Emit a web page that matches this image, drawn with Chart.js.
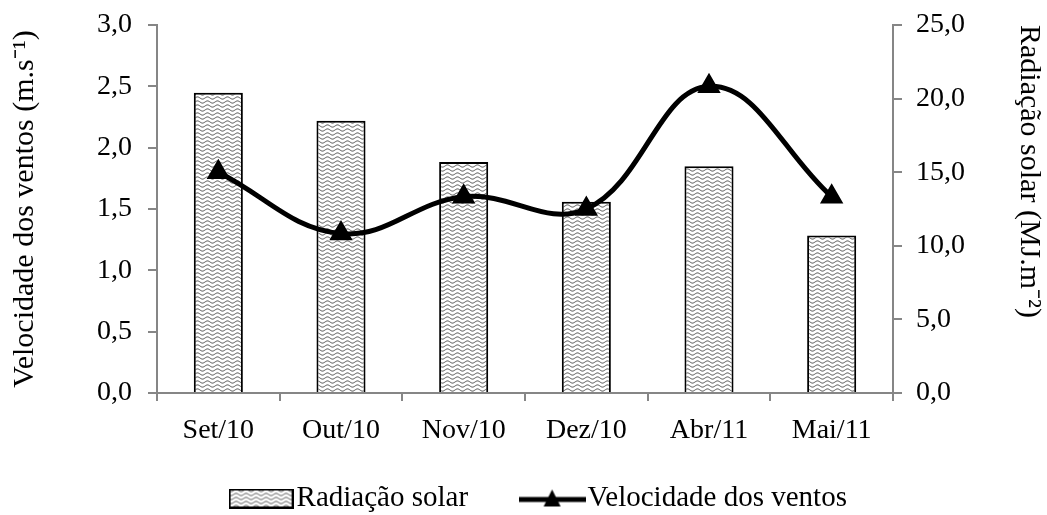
<!DOCTYPE html>
<html>
<head>
<meta charset="utf-8">
<script src="https://cdn.jsdelivr.net/npm/chart.js@4"></script>
<style>
  html, body { margin: 0; padding: 0; background: #fff; }
  #wrap { width: 1047px; height: 515px; }
</style>
</head>
<body>
<div id="wrap"><canvas id="grafico" width="1047" height="515"></canvas></div>
<script>
// Dados do gráfico
const meses = ['Set/10', 'Out/10', 'Nov/10', 'Dez/10', 'Abr/11', 'Mai/11'];
const radiacaoSolar = [20.4, 18.5, 15.7, 13.0, 15.4, 10.7];     // MJ.m-2 (eixo direito)
const velocidadeVentos = [1.8, 1.3, 1.6, 1.5, 2.5, 1.6];        // m.s-1 (eixo esquerdo)
const eixoVelocidade = { min: 0, max: 3, passo: 0.5 };
const eixoRadiacao = { min: 0, max: 25, passo: 5 };

const fonte = '"Liberation Serif", "Times New Roman", serif';
const corEixo = '#868686';
Chart.defaults.font.family = fonte;

// Textura ondulada das barras
function criarTextura() {
  const c = document.createElement('canvas');
  c.width = 10; c.height = 4;
  const ctx = c.getContext('2d');
  ctx.fillStyle = '#fff';
  ctx.fillRect(0, 0, 10, 4);
  ctx.strokeStyle = '#4a4a4a';
  ctx.lineWidth = 1;
  ctx.beginPath();
  for (let x = -1; x <= 11; x += 0.5) {
    const y = 2 + Math.sin(x / 10 * 2 * Math.PI) * 1.1;
    if (x === -1) ctx.moveTo(x, y); else ctx.lineTo(x, y);
  }
  ctx.stroke();
  return document.getElementById('grafico').getContext('2d').createPattern(c, 'repeat');
}
const textura = criarTextura();

// Ícones da legenda
function iconeBarra() {
  const c = document.createElement('canvas');
  c.width = 65; c.height = 20;
  const ctx = c.getContext('2d');
  ctx.fillStyle = textura;
  ctx.fillRect(1, 1, 63, 18);
  ctx.strokeStyle = '#000';
  ctx.lineWidth = 2;
  ctx.strokeRect(1, 1, 63, 18);
  return c;
}
function iconeLinha() {
  const c = document.createElement('canvas');
  c.width = 67; c.height = 22;
  const ctx = c.getContext('2d');
  ctx.strokeStyle = '#000';
  ctx.lineWidth = 5;
  ctx.beginPath();
  ctx.moveTo(0, 12); ctx.lineTo(67, 12);
  ctx.stroke();
  ctx.fillStyle = '#000';
  ctx.beginPath();
  ctx.moveTo(33.5, 2); ctx.lineTo(42, 19); ctx.lineTo(25, 19);
  ctx.closePath();
  ctx.fill();
  return c;
}

// Reposiciona a legenda (o padding grande só serve para o espaço entre os itens)
const ajustaLegenda = {
  id: 'ajustaLegenda',
  afterLayout(chart) {
    const lg = chart.legend;
    lg.left += 20; lg.right += 20;
    lg.top -= 32; lg.bottom -= 32;
  }
};

// Largura fixa dos eixos verticais, sem folga extra no topo
const fixaEixo = largura => s => {
  s.width = largura;
  s.paddingTop = 0;
};

const virgula = v => v.toFixed(1).replace('.', ',');

new Chart(document.getElementById('grafico'), {
  data: {
    labels: meses,
    datasets: [
      {
        type: 'bar',
        label: 'Radiação solar',
        data: radiacaoSolar,
        yAxisID: 'y2',
        backgroundColor: textura,
        borderColor: '#000',
        borderWidth: 2,
        borderSkipped: 'bottom',
        categoryPercentage: 1,
        barPercentage: 0.4,
        order: 1
      },
      {
        type: 'line',
        label: 'Velocidade dos ventos',
        data: velocidadeVentos,
        yAxisID: 'y',
        borderColor: '#000',
        borderWidth: 5,
        tension: 0.4,
        pointStyle: 'triangle',
        pointRadius: 8.5,
        pointBackgroundColor: '#000',
        pointBorderColor: '#000',
        order: 0
      }
    ]
  },
  plugins: [ajustaLegenda],
  options: {
    responsive: false,
    animation: false,
    layout: { padding: { top: 25, left: 0, right: 0, bottom: -40 } },
    plugins: {
      tooltip: { enabled: false },
      legend: {
        position: 'bottom',
        labels: {
          usePointStyle: true,
          pointStyleWidth: 42,
          padding: 63,
          color: '#000',
          font: { family: fonte, size: 29 },
          generateLabels: () => [
            { text: 'Radiação solar', pointStyle: iconeBarra(), lineWidth: 0, strokeStyle: 'rgba(0,0,0,0)', fillStyle: 'rgba(0,0,0,0)', fontColor: '#000', datasetIndex: 0 },
            { text: 'Velocidade dos ventos', pointStyle: iconeLinha(), lineWidth: 0, strokeStyle: 'rgba(0,0,0,0)', fillStyle: 'rgba(0,0,0,0)', fontColor: '#000', datasetIndex: 1 }
          ]
        }
      }
    },
    scales: {
      x: {
        grid: { drawOnChartArea: false, tickLength: 8, color: corEixo, lineWidth: 2, offset: true },
        border: { color: corEixo, width: 2 },
        ticks: { color: '#000', font: { family: fonte, size: 28 }, padding: 13 },
        afterFit: s => { s.height = 60; }
      },
      y: {
        position: 'left',
        min: eixoVelocidade.min,
        max: eixoVelocidade.max,
        grid: { drawOnChartArea: false, tickLength: 9, color: corEixo, lineWidth: 2 },
        border: { color: corEixo, width: 2 },
        ticks: { stepSize: eixoVelocidade.passo, color: '#000', font: { family: fonte, size: 28 }, padding: 16, callback: virgula },
        title: { display: true, text: 'Velocidade dos ventos (m.s⁻¹)', color: '#000', font: { family: fonte, size: 30 }, padding: 7 },
        afterFit: fixaEixo(157)
      },
      y2: {
        position: 'right',
        min: eixoRadiacao.min,
        max: eixoRadiacao.max,
        grid: { drawOnChartArea: false, tickLength: 9, color: corEixo, lineWidth: 2 },
        border: { color: corEixo, width: 2 },
        ticks: { stepSize: eixoRadiacao.passo, color: '#000', font: { family: fonte, size: 28 }, padding: 14, callback: virgula },
        title: { display: true, text: 'Radiação solar (MJ.m⁻²)', color: '#000', font: { family: fonte, size: 30 }, padding: 0, align: 'end' },
        afterFit: fixaEixo(154)
      }
    }
  }
});
</script>
</body>
</html>
